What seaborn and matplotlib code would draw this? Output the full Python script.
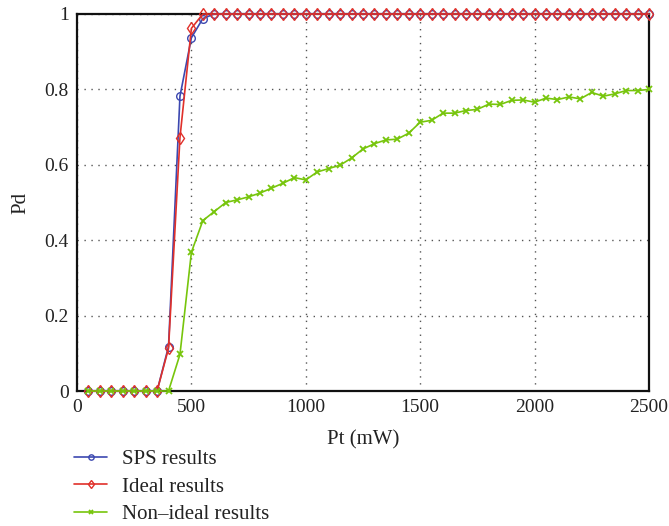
import numpy as np
import pandas as pd
import seaborn as sns
import matplotlib
matplotlib.use("Agg")
import matplotlib.pyplot as plt

# Transmit power (mW)
pt = list(range(50, 2550, 50))

sps = [0, 0, 0, 0, 0, 0, 0, 0.118, 0.782, 0.937, 0.988] + [1.0] * 39
ideal = [0, 0, 0, 0, 0, 0, 0, 0.113, 0.672, 0.962, 1.0] + [1.0] * 39
nonideal = [0, 0, 0, 0, 0, 0, 0, 0.0, 0.097, 0.368,
            0.452, 0.476, 0.500, 0.507, 0.515, 0.525, 0.538, 0.551, 0.566, 0.560,
            0.581, 0.590, 0.599, 0.618, 0.642, 0.656, 0.666, 0.668, 0.684, 0.713,
            0.718, 0.737, 0.737, 0.744, 0.747, 0.761, 0.760, 0.771, 0.772, 0.766,
            0.777, 0.773, 0.780, 0.775, 0.792, 0.782, 0.788, 0.797, 0.797, 0.800]

labels = ["SPS results", "Ideal results", "Non\u2013ideal results"]
colors = ["#3c48b0", "#e0302a", "#77c50c"]

df = pd.DataFrame({"Pt": pt, "sps": sps, "ideal": ideal, "nonideal": nonideal})

sns.set_style("white")
plt.rcParams["font.family"] = ["Liberation Serif", "DejaVu Serif"]

fig = plt.figure(figsize=(6.69, 5.26), dpi=100)
ax = fig.add_axes([77 / 669, 1 - 391 / 526, 572 / 669, 377 / 526])

sns.lineplot(data=df, x="Pt", y="sps", ax=ax, color=colors[0], marker="o",
             markersize=5.5, markerfacecolor="none", markeredgecolor=colors[0],
             markeredgewidth=1.0, linewidth=1.2, label=labels[0], clip_on=False)
sns.lineplot(data=df, x="Pt", y="ideal", ax=ax, color=colors[1], marker="d",
             markersize=6.5, markerfacecolor="none", markeredgecolor=colors[1],
             markeredgewidth=1.0, linewidth=1.2, label=labels[1], clip_on=False)
sns.lineplot(data=df, x="Pt", y="nonideal", ax=ax, color=colors[2], marker="x",
             markersize=4.5, markeredgecolor=colors[2], markeredgewidth=1.3,
             linewidth=1.2, label=labels[2], clip_on=False)

ax.set_xlim(0, 2500)
ax.set_ylim(0, 1)
ax.set_xticks([0, 500, 1000, 1500, 2000, 2500])
ax.set_yticks([0, 0.2, 0.4, 0.6, 0.8, 1.0])
ax.set_yticklabels(["0", "0.2", "0.4", "0.6", "0.8", "1"])
ax.tick_params(direction="in", length=5, width=1.2, labelsize=14, colors="#222222",
               top=False, right=False, pad=6)
for s in ax.spines.values():
    s.set_linewidth(1.6)
    s.set_color("#111111")
    s.set_zorder(1)

ax.grid(True, linestyle=(0, (1, 4)), color="#555555", linewidth=1.0)
ax.set_axisbelow(True)

ax.set_xlabel("Pt (mW)", fontsize=15, color="#222222", labelpad=10)
ax.set_ylabel("Pd", fontsize=15, color="#222222", labelpad=10)

leg = ax.legend(loc="upper left", bbox_to_anchor=(-0.005, -0.155), frameon=False,
                fontsize=15, handlelength=1.6, handletextpad=0.7, labelspacing=0.38,
                borderaxespad=0, borderpad=0, markerscale=0.7)
for t in leg.get_texts():
    t.set_color("#222222")

fig.savefig("out.png", dpi=100)
